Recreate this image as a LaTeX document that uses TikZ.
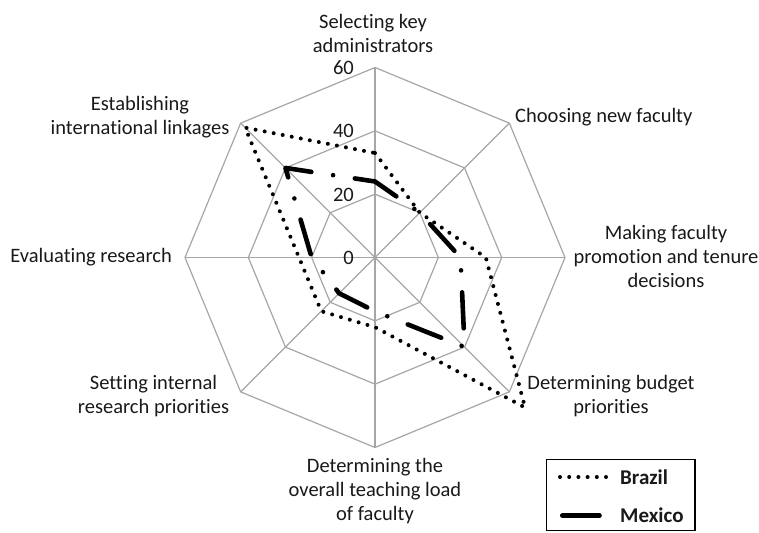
\documentclass[tikz,border=0pt]{standalone}
\usepackage{fontspec}
\setmainfont{Carlito}[Ligatures=NoCommon]
\definecolor{gridc}{RGB}{166,166,166}
\definecolor{txt}{RGB}{25,25,25}
\begin{document}
\begin{tikzpicture}[x=1pt,y=1pt,
  gridline/.style={draw=gridc, line width=1.2pt},
  brazil/.style={draw=black, line width=4pt, line cap=round, dash pattern=on 0pt off 9.2pt},
  mexico/.style={draw=black, line width=4.6pt, line cap=round, line join=round, dash pattern=on 36pt off 22pt on 0pt off 22pt, dash phase=10pt},
  lbl/.style={font=\fontsize{20.5}{24}\selectfont, text=txt, inner sep=0pt, align=center},
  num/.style={lbl, anchor=east},
  legtext/.style={font=\fontsize{21}{24}\selectfont\bfseries, text=txt, inner sep=0pt, anchor=west}]
\useasboundingbox (0,0) rectangle (759,-532);
\coordinate (C) at (375,-257.5);
\begin{scope}[shift={(C)}]
  \foreach \r in {63.33,126.67,190}
    \draw[gridline] (90:\r) -- (45:\r) -- (0:\r) -- (-45:\r) -- (-90:\r) -- (-135:\r) -- (180:\r) -- (135:\r) -- cycle;
  \foreach \a in {90,45,...,-225}
    \draw[gridline] (0,0) -- (\a:190);
  % Brazil
  \draw[brazil] (90:104.5) -- (45:63.33) -- (0:110.83) -- (-45:212.17) -- (-90:69.67) -- (-135:76) -- (180:76) -- (135:183.67) -- cycle;
  % Mexico
  \draw[mexico] (90:76) -- (45:63.33) -- (0:85.5) -- (-45:126.67) -- (-90:53.83) -- (-135:50.67) -- (180:63.33) -- (135:126.67) -- cycle;
\end{scope}
\node[num] (n60) at (354,-67.5) {60};
\node[num] (n40) at (354,-131) {40};
\node[num] (n20) at (354,-194.5) {20};
\node[num] (n0) at (354,-258) {0};
\node[lbl] (selk) at (373,-33) {Selecting key\\administrators};
\node[lbl, anchor=west] (choo) at (515,-117) {Choosing new faculty};
\node[lbl] (make) at (666,-256.5) {Making faculty\\promotion and tenure\\decisions};
\node[lbl] (budg) at (611,-396) {Determining budget\\priorities};
\node[lbl] (teach) at (375,-491) {Determining the\\overall teaching load\\of faculty};
\node[lbl] (sett) at (153.5,-396) {Setting internal\\research priorities};
\node[lbl, anchor=east] (eval) at (172,-257) {Evaluating research};
\node[lbl] (esta) at (140,-117) {Establishing\\international linkages};
% legend
\node[draw=black, line width=1.3pt, minimum width=148.5pt, minimum height=71pt, inner sep=0pt] (legend) at (620.75,-495) {};
\coordinate (b1) at (560,-477);
\coordinate (b2) at (608,-477);
\draw[brazil, dash phase=0pt] (b1) -- (b2);
\coordinate (m1) at (562.3,-515.5);
\coordinate (m2) at (599.5,-515.5);
\draw[mexico, solid] (m1) -- (m2);
\node[legtext] (bl) at (620,-477) {Brazil};
\node[legtext] (ml) at (620,-515.5) {Mexico};
\end{tikzpicture}
\end{document}
